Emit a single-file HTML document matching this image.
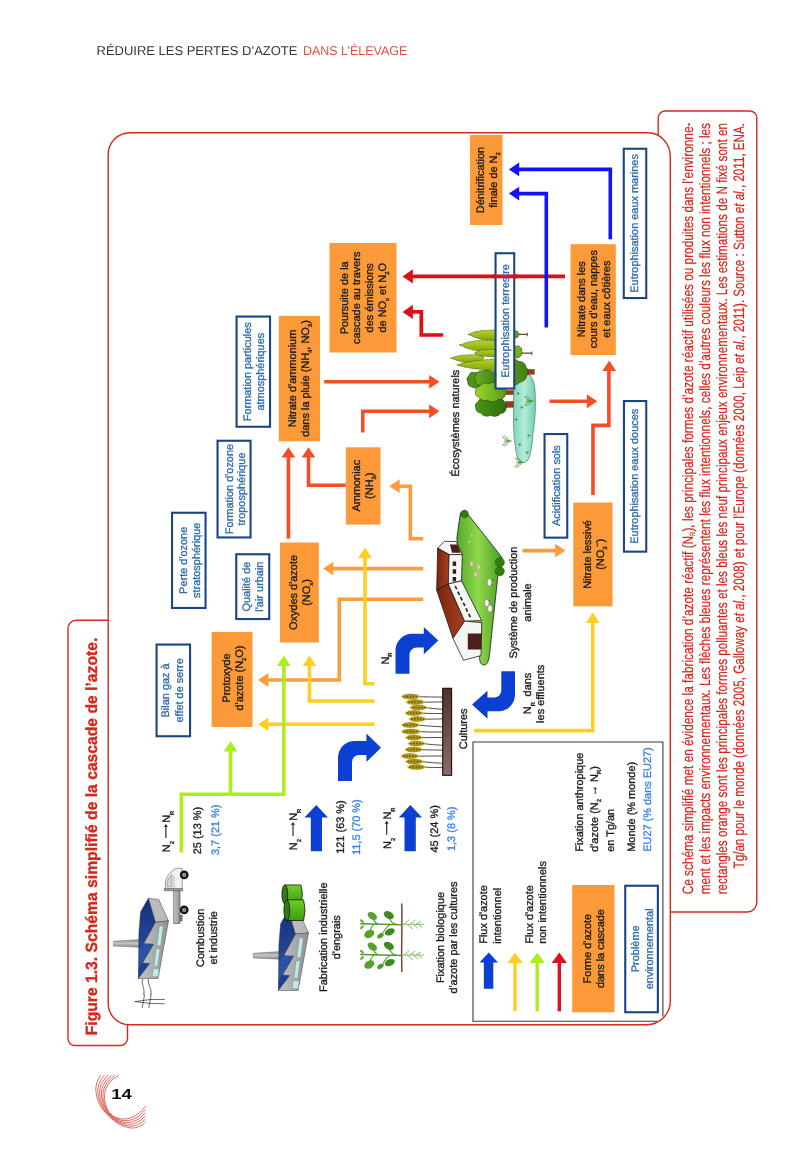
<!DOCTYPE html>
<html><head><meta charset="utf-8"><title>Figure 1.3</title>
<style>
html,body{margin:0;padding:0;background:#fff;}
body{width:800px;height:1158px;overflow:hidden;font-family:"Liberation Sans",sans-serif;}
svg{display:block;font-family:"Liberation Sans",sans-serif;will-change:transform;}
</style></head><body>
<svg width="800" height="1158" viewBox="0 0 800 1158" text-rendering="geometricPrecision">
<defs>
<linearGradient id="gField" x1="0" y1="0" x2="1" y2="0"><stop offset="0" stop-color="#4fa52a"/><stop offset="0.5" stop-color="#8fd84a"/><stop offset="1" stop-color="#4a9d24"/></linearGradient>
<linearGradient id="gRoof" x1="0" y1="0" x2="1" y2="0"><stop offset="0" stop-color="#7a2410"/><stop offset="1" stop-color="#a8401c"/></linearGradient>
<linearGradient id="gBar" x1="0" y1="0" x2="0" y2="1"><stop offset="0" stop-color="#4e322e"/><stop offset="1" stop-color="#8d6e66"/></linearGradient>
<linearGradient id="gBlueRoof" x1="0" y1="0" x2="0" y2="1"><stop offset="0" stop-color="#16307a"/><stop offset="1" stop-color="#2f5aa8"/></linearGradient>
<linearGradient id="gWall" x1="0" y1="0" x2="1" y2="0"><stop offset="0" stop-color="#c4c6c8"/><stop offset="1" stop-color="#8f9294"/></linearGradient>
<linearGradient id="gPond" x1="0" y1="0" x2="1" y2="0"><stop offset="0" stop-color="#7fd6bd"/><stop offset="0.5" stop-color="#b4ecd6"/><stop offset="1" stop-color="#6fcdb4"/></linearGradient>
<linearGradient id="gChim" x1="0" y1="0" x2="0" y2="1"><stop offset="0" stop-color="#8d9092"/><stop offset="0.5" stop-color="#c2c4c6"/><stop offset="1" stop-color="#85888a"/></linearGradient>
<linearGradient id="gCon" x1="0" y1="0" x2="0" y2="1"><stop offset="0" stop-color="#b4d420"/><stop offset="1" stop-color="#7fa512"/></linearGradient>
<linearGradient id="gCrownM" x1="0" y1="0" x2="1" y2="0"><stop offset="0" stop-color="#6aac22"/><stop offset="1" stop-color="#417f12"/></linearGradient>
<linearGradient id="gCrownL" x1="0" y1="0" x2="1" y2="0"><stop offset="0" stop-color="#9ad524"/><stop offset="1" stop-color="#5a9a18"/></linearGradient>
<linearGradient id="gCrownD" x1="0" y1="0" x2="1" y2="0"><stop offset="0" stop-color="#4c9418"/><stop offset="1" stop-color="#2f6e0c"/></linearGradient>
<linearGradient id="gCyl" x1="0" y1="0" x2="0" y2="1"><stop offset="0" stop-color="#6fd02a"/><stop offset="1" stop-color="#3f9a12"/></linearGradient>
</defs>
<rect width="800" height="1158" fill="#fff"/>

<text x="96.6" y="55" font-size="12.86" fill="#363636" textLength="200.8" lengthAdjust="spacingAndGlyphs">RÉDUIRE LES PERTES D’AZOTE</text>
<text x="303.1" y="55" font-size="12.86" fill="#e4523c" textLength="104.1" lengthAdjust="spacingAndGlyphs">DANS L’ÉLEVAGE</text>
<path d="M658.2,912 V118 a7,7 0 0 1 7,-7 H749.8 a7,7 0 0 1 7,7 V902.5 a9.5,9.5 0 0 1 -9.5,9.5 Z" fill="#fff" stroke="#d62a1e" stroke-width="1.4"/>
<path d="M115,620.3 H76 a8,8 0 0 0 -8,8 V1038.5 a7,7 0 0 0 7,7 H120.5 a7,7 0 0 0 7,-7 V1000" fill="#fff" stroke="#d62a1e" stroke-width="1.4"/>
<path d="M130,132.8 H648 a22.3,24 0 0 1 22.3,24 V1001 a23.5,23.8 0 0 1 -23.5,23.8 H129.5 a21.3,21.3 0 0 1 -21.3,-21.3 V154.5 a21.7,21.7 0 0 1 21.8,-21.7 Z" fill="#fff" stroke="#d62a1e" stroke-width="1.4"/>
<text transform="translate(96.50,1035.30) rotate(-90)" text-anchor="start" font-size="16.2" fill="#d3281c" textLength="397.60" lengthAdjust="spacingAndGlyphs" font-weight="bold" stroke="#d3281c" stroke-width="0.35">Figure 1.3. Schéma simplifié de la cascade de l’azote.</text>
<text x="111.3" y="1098.8" font-size="14.4" font-weight="bold" fill="#111" textLength="20.6" lengthAdjust="spacingAndGlyphs">14</text>
<path d="M118.80,1075.20 C117.33,1076.33 112.27,1079.37 110.00,1082.00 C107.73,1084.63 106.07,1087.83 105.20,1091.00 C104.33,1094.17 104.13,1097.45 104.80,1101.00 C105.47,1104.55 107.00,1109.43 109.20,1112.30 C111.40,1115.17 114.87,1117.15 118.00,1118.20 C121.13,1119.25 124.67,1119.30 128.00,1118.60 C131.33,1117.90 135.07,1116.07 138.00,1114.00 C140.93,1111.93 144.33,1107.50 145.60,1106.20" fill="none" stroke="#d02e20" stroke-width="0.7"/>
<path d="M115.16,1075.20 C113.86,1076.37 109.33,1079.53 107.36,1082.20 C105.39,1084.87 103.96,1087.97 103.36,1091.20 C102.76,1094.43 102.82,1097.99 103.74,1101.60 C104.66,1105.21 106.47,1109.88 108.88,1112.84 C111.29,1115.80 114.91,1118.09 118.20,1119.36 C121.49,1120.63 125.23,1120.97 128.60,1120.48 C131.97,1119.99 135.57,1118.29 138.40,1116.44 C141.23,1114.59 144.40,1110.54 145.60,1109.36" fill="none" stroke="#d02e20" stroke-width="0.7"/>
<path d="M111.52,1075.20 C110.39,1076.40 106.39,1079.70 104.72,1082.40 C103.05,1085.10 101.86,1088.10 101.52,1091.40 C101.18,1094.70 101.51,1098.54 102.68,1102.20 C103.85,1105.86 105.94,1110.33 108.56,1113.38 C111.18,1116.43 114.96,1119.02 118.40,1120.52 C121.84,1122.02 125.80,1122.63 129.20,1122.36 C132.60,1122.09 136.07,1120.52 138.80,1118.88 C141.53,1117.24 144.47,1113.58 145.60,1112.52" fill="none" stroke="#d02e20" stroke-width="0.7"/>
<path d="M107.88,1075.20 C106.91,1076.43 103.45,1079.87 102.08,1082.60 C100.71,1085.33 99.76,1088.23 99.68,1091.60 C99.60,1094.97 100.19,1099.08 101.62,1102.80 C103.05,1106.52 105.41,1110.77 108.24,1113.92 C111.07,1117.07 115.01,1119.96 118.60,1121.68 C122.19,1123.40 126.37,1124.30 129.80,1124.24 C133.23,1124.18 136.57,1122.75 139.20,1121.32 C141.83,1119.89 144.53,1116.62 145.60,1115.68" fill="none" stroke="#d02e20" stroke-width="0.7"/>
<path d="M104.24,1075.20 C103.44,1076.47 100.51,1080.03 99.44,1082.80 C98.37,1085.57 97.65,1088.37 97.84,1091.80 C98.03,1095.23 98.88,1099.62 100.56,1103.40 C102.24,1107.18 104.88,1111.22 107.92,1114.46 C110.96,1117.70 115.05,1120.90 118.80,1122.84 C122.55,1124.78 126.93,1125.97 130.40,1126.12 C133.87,1126.27 137.07,1124.97 139.60,1123.76 C142.13,1122.55 144.60,1119.66 145.60,1118.84" fill="none" stroke="#d02e20" stroke-width="0.7"/>
<path d="M100.60,1075.20 C99.97,1076.50 97.57,1080.20 96.80,1083.00 C96.03,1085.80 95.55,1088.50 96.00,1092.00 C96.45,1095.50 97.57,1100.17 99.50,1104.00 C101.43,1107.83 104.35,1111.67 107.60,1115.00 C110.85,1118.33 115.10,1121.83 119.00,1124.00 C122.90,1126.17 127.50,1127.63 131.00,1128.00 C134.50,1128.37 137.57,1127.20 140.00,1126.20 C142.43,1125.20 144.67,1122.70 145.60,1122.00" fill="none" stroke="#d02e20" stroke-width="0.7"/>
<path d="M514.2,377 Q521,373.6 530,375 Q534.4,380 535,390 Q535.8,402 535.3,412 Q534.6,424 533,434 Q532,447 530,455.5 Q528,461.8 524,462.6 Q520,462.6 518,459.5 Q515.8,453 515,444.5 Q513.6,435 513.5,425 Q513.2,410 513.5,395 Q513.6,385 514.2,377 Z" fill="url(#gPond)" stroke="#2a5a3a" stroke-width="0.5"/>
<rect x="527" y="369.4" width="7.4" height="5" fill="#9a3c1a" stroke="#3a1508" stroke-width="0.3"/>
<rect x="505.4" y="390.4" width="8" height="4.2" fill="#9a3c1a" stroke="#3a1508" stroke-width="0.3"/>
<rect x="505.4" y="401.4" width="8" height="6" fill="#9a3c1a" stroke="#3a1508" stroke-width="0.3"/>
<path d="M517,334.4 H527.4 M527.2,332.8 V336.2" stroke="#5a4a30" stroke-width="1.1" fill="none"/>
<path d="M518.60,334.40 A2.53,2.53 0 0 1 517.30,337.52 A1.95,1.95 0 0 1 514.70,337.52 A2.53,2.53 0 0 1 513.40,334.40 A2.53,2.53 0 0 1 514.70,331.28 A1.95,1.95 0 0 1 517.30,331.28 A2.53,2.53 0 0 1 518.60,334.40 Z" fill="#6aa41c" stroke="#1c2c0a" stroke-width="0.4" stroke-linejoin="round"/>
<path d="M521,353.1 H532 M531.8,351.4 V355" stroke="#5a4a30" stroke-width="1.1" fill="none"/>
<path d="M521.80,351.80 A3.71,3.71 0 0 1 520.22,356.49 A2.80,2.80 0 0 1 516.67,357.65 A3.24,3.24 0 0 1 513.82,354.40 A3.90,3.90 0 0 1 513.82,349.20 A3.24,3.24 0 0 1 516.67,345.95 A2.80,2.80 0 0 1 520.22,347.11 A3.71,3.71 0 0 1 521.80,351.80 Z" fill="#78b01e" stroke="#1c2c0a" stroke-width="0.4" stroke-linejoin="round"/>
<path d="M526.76,375.55 A7.09,7.09 0 0 1 519.94,382.09 A8.37,8.37 0 0 1 508.94,383.91 A8.04,8.04 0 0 1 498.90,380.16 A6.56,6.56 0 0 1 494.52,372.59 A6.39,6.39 0 0 1 497.86,364.75 A7.86,7.86 0 0 1 507.34,360.30 A8.43,8.43 0 0 1 518.54,361.33 A7.31,7.31 0 0 1 526.21,367.35 A6.16,6.16 0 0 1 526.76,375.55 Z" fill="url(#gCrownM)" stroke="#1c2c0a" stroke-width="0.5" stroke-linejoin="round"/>
<path d="M481.36,381.49 A4.76,4.76 0 0 1 477.69,386.68 A4.56,4.56 0 0 1 471.62,386.83 A4.75,4.75 0 0 1 467.72,381.85 A4.87,4.87 0 0 1 468.92,375.47 A4.63,4.63 0 0 1 474.33,372.50 A4.61,4.61 0 0 1 479.86,375.18 A4.86,4.86 0 0 1 481.36,381.49 Z" fill="#4f921a" stroke="#1c2c0a" stroke-width="0.5" stroke-linejoin="round"/>
<path d="M495.65,382.34 A5.70,5.70 0 0 1 489.10,386.18 A6.30,6.30 0 0 1 480.73,385.52 A5.34,5.34 0 0 1 475.44,380.75 A4.62,4.62 0 0 1 476.35,374.66 A5.70,5.70 0 0 1 482.90,370.82 A6.30,6.30 0 0 1 491.27,371.48 A5.34,5.34 0 0 1 496.56,376.25 A4.62,4.62 0 0 1 495.65,382.34 Z" fill="url(#gCrownM)" stroke="#1c2c0a" stroke-width="0.5" stroke-linejoin="round"/>
<path d="M506.19,408.25 A5.66,5.66 0 0 1 500.66,413.38 A7.67,7.67 0 0 1 490.61,415.30 A7.58,7.58 0 0 1 480.74,413.09 A5.49,5.49 0 0 1 475.67,407.81 A4.70,4.70 0 0 1 477.78,401.91 A6.83,6.83 0 0 1 486.07,398.16 A7.95,7.95 0 0 1 496.67,398.31 A6.67,6.67 0 0 1 504.62,402.30 A4.62,4.62 0 0 1 506.19,408.25 Z" fill="url(#gCrownD)" stroke="#1c2c0a" stroke-width="0.5" stroke-linejoin="round"/>
<path d="M505.28,395.27 A6.27,6.27 0 0 1 498.06,399.48 A7.91,7.91 0 0 1 487.53,400.19 A7.07,7.07 0 0 1 478.63,397.06 A4.74,4.74 0 0 1 475.52,391.57 A5.03,5.03 0 0 1 479.65,386.28 A7.35,7.35 0 0 1 489.09,383.66 A7.81,7.81 0 0 1 499.42,384.95 A5.90,5.90 0 0 1 505.82,389.53 A4.32,4.32 0 0 1 505.28,395.27 Z" fill="url(#gCrownL)" stroke="#1c2c0a" stroke-width="0.5" stroke-linejoin="round"/>
<polygon points="468.10,334.40 475.00,331.60 482.50,330.60 494.40,330.00 497.00,335.00 494.40,340.60 481.20,339.40 474.00,337.00" fill="url(#gCon)" stroke="#2a3408" stroke-width="0.55" stroke-dasharray="1.6 0.9" stroke-linejoin="round"/>
<polygon points="459.40,345.00 468.00,342.00 477.50,340.60 494.40,340.60 497.00,346.00 494.40,351.90 475.00,350.60 466.00,348.00" fill="url(#gCon)" stroke="#2a3408" stroke-width="0.55" stroke-dasharray="1.6 0.9" stroke-linejoin="round"/>
<polygon points="450.60,358.10 457.00,356.00 463.80,355.00 481.20,354.40 484.00,358.00 482.50,361.20 465.00,362.50 457.00,360.60" fill="url(#gCon)" stroke="#2a3408" stroke-width="0.55" stroke-dasharray="1.6 0.9" stroke-linejoin="round"/>
<polygon points="474.40,353.10 478.00,351.00 482.50,350.00 494.40,349.40 497.00,353.00 494.40,356.90 482.50,356.20 478.00,355.00" fill="url(#gCon)" stroke="#2a3408" stroke-width="0.55" stroke-dasharray="1.6 0.9" stroke-linejoin="round"/>
<polygon points="456.90,365.00 464.00,362.60 472.50,361.20 494.40,358.80 497.00,364.00 494.40,370.60 473.80,368.80 464.00,367.00" fill="url(#gCon)" stroke="#2a3408" stroke-width="0.55" stroke-dasharray="1.6 0.9" stroke-linejoin="round"/>
<g fill="none" stroke="#3f8a2a" stroke-width="0.8" stroke-linecap="round">
<path d="M533.5,401 h-7 M530.5,401 q-4,-1 -6,-4.5 M530.5,401 q-4,1 -6,4.5 M531.5,401 q-2,3 -5,5 M531.5,401 q-2,-3 -5,-5"/>
<path d="M511.5,441 h-7 M508.5,441 q-4,-1 -6,-4.5 M508.5,441 q-4,1 -6,4.5 M509.5,441 q-2,3 -5,5 M509.5,441 q-2,-3 -5,-5"/>
<path d="M524,462.5 h-7 M521,462.5 q-4,-1 -6,-4.5 M521,462.5 q-4,1 -6,4.5 M522,462.5 q-2,3 -5,5 M522,462.5 q-2,-3 -5,-5"/>
</g>
<g fill="#3f8a2a">
<path d="M518.5,393 l-1.5,-1.2 l0.6,1.4 l-1.4,1 l1.7,-0.2 l0.6,1.4 l0.4,-1.6 l1.5,-0.5 l-1.5,-0.6 z"/>
<path d="M520,444 l-1.5,-1.2 l0.6,1.4 l-1.4,1 l1.7,-0.2 l0.6,1.4 l0.4,-1.6 l1.5,-0.5 l-1.5,-0.6 z"/>
<path d="M529,435 l-1.5,-1.2 l0.6,1.4 l-1.4,1 l1.7,-0.2 l0.6,1.4 l0.4,-1.6 l1.5,-0.5 l-1.5,-0.6 z"/>
<path d="M516.5,419 l-1.5,-1.2 l0.6,1.4 l-1.4,1 l1.7,-0.2 l0.6,1.4 l0.4,-1.6 l1.5,-0.5 l-1.5,-0.6 z"/>
<path d="M527.5,452 l-1.5,-1.2 l0.6,1.4 l-1.4,1 l1.7,-0.2 l0.6,1.4 l0.4,-1.6 l1.5,-0.5 l-1.5,-0.6 z"/>
<path d="M522,407 l-1.5,-1.2 l0.6,1.4 l-1.4,1 l1.7,-0.2 l0.6,1.4 l0.4,-1.6 l1.5,-0.5 l-1.5,-0.6 z"/>
</g>
<path d="M464.6,510.1 L502,557.5 L498,574.6 L489.6,654 Q488.6,665.8 483.4,665 Q479.3,664 479.6,657 L481.6,622.8 L470,622 L455,582 L458,556 L456.9,537.3 L460.4,513 Z" fill="url(#gField)" stroke="#141414" stroke-width="0.75" stroke-linejoin="round"/>
<circle cx="464.6" cy="514" r="3.8" fill="#2f7d12" stroke="#1b4a0a" stroke-width="0.4"/>
<circle cx="499.8" cy="562.4" r="4.6" fill="#2f7d12" stroke="#1b4a0a" stroke-width="0.4"/>
<circle cx="499.8" cy="571.3" r="4.6" fill="#2f7d12" stroke="#1b4a0a" stroke-width="0.4"/>
<polygon points="437.60,548.20 444.50,541.30 456.20,541.50 462.30,554.60 449.10,554.60" fill="#f4f6f4" stroke="#141414" stroke-width="0.75" stroke-linejoin="round"/>
<polygon points="449.90,544.60 457.60,544.60 460.60,552.80 452.00,552.80" fill="#4a2018"/>
<polygon points="436.70,590.20 437.60,548.20 449.10,554.60 448.30,584.00" fill="url(#gRoof)" stroke="#141414" stroke-width="0.75" stroke-linejoin="round"/>
<polygon points="449.10,554.60 462.30,554.60 461.50,580.80 448.30,584.00" fill="#f4f6f4" stroke="#141414" stroke-width="0.75" stroke-linejoin="round"/>
<rect x="452.7" y="561.5" width="3.4" height="4.4" fill="#3a1a14"/>
<rect x="452.7" y="569.3" width="3.4" height="4.4" fill="#3a1a14"/>
<rect x="452.7" y="577" width="3.4" height="4.4" fill="#3a1a14"/>
<polygon points="436.70,590.20 448.30,584.00 464.60,621.20 453.00,638.40" fill="url(#gRoof)" stroke="#141414" stroke-width="0.75" stroke-linejoin="round"/>
<polygon points="448.30,584.00 461.50,580.80 481.60,620.50 464.60,621.20" fill="#f4f6f4" stroke="#141414" stroke-width="0.75" stroke-linejoin="round"/>
<path d="M455.2,586 L470.5,617.5" stroke="#2a1a14" stroke-width="1.6" stroke-dasharray="3.6 2.6" fill="none"/>
<polygon points="453.00,638.40 464.60,621.20 481.80,622.60 481.00,655.60 463.50,660.30" fill="#f4f6f4" stroke="#141414" stroke-width="0.75" stroke-linejoin="round"/>
<polygon points="467.80,633.60 481.60,633.60 481.40,649.40 467.80,649.40" fill="#4a2018"/>
<ellipse cx="471.6" cy="563.7" rx="1.6" ry="2.6" fill="#f3c4c4" stroke="#b08080" stroke-width="0.3"/>
<ellipse cx="478.6" cy="566.8" rx="1.6" ry="2.6" fill="#f3c4c4" stroke="#b08080" stroke-width="0.3"/>
<ellipse cx="475.5" cy="574.6" rx="1.6" ry="2.6" fill="#f3c4c4" stroke="#b08080" stroke-width="0.3"/>
<circle cx="471.6" cy="535.8" r="0.9" fill="#f3d0d0"/>
<circle cx="469.3" cy="542" r="0.9" fill="#f3d0d0"/>
<ellipse cx="489.5" cy="582.4" rx="2.2" ry="3.6" fill="#fbfbfb" stroke="#555" stroke-width="0.35"/>
<path d="M491.5,579.9 h2 M491.5,584.9 h2" stroke="#444" stroke-width="0.5"/>
<ellipse cx="486.8" cy="603" rx="2.2" ry="3.6" fill="#fbfbfb" stroke="#555" stroke-width="0.35"/>
<path d="M488.8,600.5 h2 M488.8,605.5 h2" stroke="#444" stroke-width="0.5"/>
<ellipse cx="490" cy="608.5" rx="2.2" ry="3.6" fill="#fbfbfb" stroke="#555" stroke-width="0.35"/>
<path d="M492,606.0 h2 M492,611.0 h2" stroke="#444" stroke-width="0.5"/>
<path d="M419,696.7 Q431.0,697.1 442.6,697.1" stroke="#2e3328" stroke-width="0.85" fill="none"/>
<ellipse cx="410.8" cy="696.5" rx="10.1" ry="3.1" fill="#d9c45a" opacity="0.55"/>
<path d="M401.5,696.5 Q405.5,693.6 410.75,693.8 T420,696.5 Q417,699.1 410.75,699.2 T401.5,696.5 Z" fill="#b39a1c"/>
<path d="M403.5,696.5 H418.5" stroke="#5e5210" stroke-width="1.3" stroke-dasharray="1.5 1.5" fill="none"/>
<path d="M404.5,694.8 H417 M404.5,698.2 H417" stroke="#8a7a14" stroke-width="0.7" stroke-dasharray="1.2 1.8" fill="none"/>
<path d="M423.5,702.2 Q433.2,702.1 442.6,701.9" stroke="#2e3328" stroke-width="0.85" fill="none"/>
<ellipse cx="415.2" cy="702" rx="10.1" ry="3.1" fill="#d9c45a" opacity="0.55"/>
<path d="M406,702 Q410,699.1 415.25,699.3 T424.5,702 Q421.5,704.6 415.25,704.7 T406,702 Z" fill="#b39a1c"/>
<path d="M408,702 H423.0" stroke="#5e5210" stroke-width="1.3" stroke-dasharray="1.5 1.5" fill="none"/>
<path d="M409,700.3 H421.5 M409,703.7 H421.5" stroke="#8a7a14" stroke-width="0.7" stroke-dasharray="1.2 1.8" fill="none"/>
<path d="M426,707.7 Q434.5,708.9 442.6,709.3" stroke="#2e3328" stroke-width="0.85" fill="none"/>
<ellipse cx="418.5" cy="707.5" rx="9.3" ry="3.1" fill="#d9c45a" opacity="0.55"/>
<path d="M410,707.5 Q414,704.6 418.5,704.8 T427,707.5 Q424,710.1 418.5,710.2 T410,707.5 Z" fill="#b39a1c"/>
<path d="M412,707.5 H425.5" stroke="#5e5210" stroke-width="1.3" stroke-dasharray="1.5 1.5" fill="none"/>
<path d="M413,705.8 H424 M413,709.2 H424" stroke="#8a7a14" stroke-width="0.7" stroke-dasharray="1.2 1.8" fill="none"/>
<path d="M422,713.2 Q432.5,713.6 442.6,713.6" stroke="#2e3328" stroke-width="0.85" fill="none"/>
<ellipse cx="414.0" cy="713" rx="9.8" ry="3.1" fill="#d9c45a" opacity="0.55"/>
<path d="M405,713 Q409,710.1 414.0,710.3 T423,713 Q420,715.6 414.0,715.7 T405,713 Z" fill="#b39a1c"/>
<path d="M407,713 H421.5" stroke="#5e5210" stroke-width="1.3" stroke-dasharray="1.5 1.5" fill="none"/>
<path d="M408,711.3 H420 M408,714.7 H420" stroke="#8a7a14" stroke-width="0.7" stroke-dasharray="1.2 1.8" fill="none"/>
<path d="M425,719.2 Q434.0,719.1 442.6,718.9" stroke="#2e3328" stroke-width="0.85" fill="none"/>
<ellipse cx="417.5" cy="719" rx="9.3" ry="3.1" fill="#d9c45a" opacity="0.55"/>
<path d="M409,719 Q413,716.1 417.5,716.3 T426,719 Q423,721.6 417.5,721.7 T409,719 Z" fill="#b39a1c"/>
<path d="M411,719 H424.5" stroke="#5e5210" stroke-width="1.3" stroke-dasharray="1.5 1.5" fill="none"/>
<path d="M412,717.3 H423 M412,720.7 H423" stroke="#8a7a14" stroke-width="0.7" stroke-dasharray="1.2 1.8" fill="none"/>
<path d="M418.5,725.2 Q430.8,726.4 442.6,726.8" stroke="#2e3328" stroke-width="0.85" fill="none"/>
<ellipse cx="410.5" cy="725" rx="9.8" ry="3.1" fill="#d9c45a" opacity="0.55"/>
<path d="M401.5,725 Q405.5,722.1 410.5,722.3 T419.5,725 Q416.5,727.6 410.5,727.7 T401.5,725 Z" fill="#b39a1c"/>
<path d="M403.5,725 H418.0" stroke="#5e5210" stroke-width="1.3" stroke-dasharray="1.5 1.5" fill="none"/>
<path d="M404.5,723.3 H416.5 M404.5,726.7 H416.5" stroke="#8a7a14" stroke-width="0.7" stroke-dasharray="1.2 1.8" fill="none"/>
<path d="M419.5,731.7 Q431.2,732.1 442.6,732.1" stroke="#2e3328" stroke-width="0.85" fill="none"/>
<ellipse cx="411.0" cy="731.5" rx="10.3" ry="3.1" fill="#d9c45a" opacity="0.55"/>
<path d="M401.5,731.5 Q405.5,728.6 411.0,728.8 T420.5,731.5 Q417.5,734.1 411.0,734.2 T401.5,731.5 Z" fill="#b39a1c"/>
<path d="M403.5,731.5 H419.0" stroke="#5e5210" stroke-width="1.3" stroke-dasharray="1.5 1.5" fill="none"/>
<path d="M404.5,729.8 H417.5 M404.5,733.2 H417.5" stroke="#8a7a14" stroke-width="0.7" stroke-dasharray="1.2 1.8" fill="none"/>
<path d="M421.5,737.7 Q432.2,737.6 442.6,737.4" stroke="#2e3328" stroke-width="0.85" fill="none"/>
<ellipse cx="414.0" cy="737.5" rx="9.3" ry="3.1" fill="#d9c45a" opacity="0.55"/>
<path d="M405.5,737.5 Q409.5,734.6 414.0,734.8 T422.5,737.5 Q419.5,740.1 414.0,740.2 T405.5,737.5 Z" fill="#b39a1c"/>
<path d="M407.5,737.5 H421.0" stroke="#5e5210" stroke-width="1.3" stroke-dasharray="1.5 1.5" fill="none"/>
<path d="M408.5,735.8 H419.5 M408.5,739.2 H419.5" stroke="#8a7a14" stroke-width="0.7" stroke-dasharray="1.2 1.8" fill="none"/>
<path d="M424,743.7 Q433.5,744.9 442.6,745.3" stroke="#2e3328" stroke-width="0.85" fill="none"/>
<ellipse cx="416.5" cy="743.5" rx="9.3" ry="3.1" fill="#d9c45a" opacity="0.55"/>
<path d="M408,743.5 Q412,740.6 416.5,740.8 T425,743.5 Q422,746.1 416.5,746.2 T408,743.5 Z" fill="#b39a1c"/>
<path d="M410,743.5 H423.5" stroke="#5e5210" stroke-width="1.3" stroke-dasharray="1.5 1.5" fill="none"/>
<path d="M411,741.8 H422 M411,745.2 H422" stroke="#8a7a14" stroke-width="0.7" stroke-dasharray="1.2 1.8" fill="none"/>
<path d="M421.5,749.7 Q432.2,750.1 442.6,750.1" stroke="#2e3328" stroke-width="0.85" fill="none"/>
<ellipse cx="413.8" cy="749.5" rx="9.6" ry="3.1" fill="#d9c45a" opacity="0.55"/>
<path d="M405,749.5 Q409,746.6 413.75,746.8 T422.5,749.5 Q419.5,752.1 413.75,752.2 T405,749.5 Z" fill="#b39a1c"/>
<path d="M407,749.5 H421.0" stroke="#5e5210" stroke-width="1.3" stroke-dasharray="1.5 1.5" fill="none"/>
<path d="M408,747.8 H419.5 M408,751.2 H419.5" stroke="#8a7a14" stroke-width="0.7" stroke-dasharray="1.2 1.8" fill="none"/>
<path d="M418,756.2 Q430.5,756.1 442.6,755.9" stroke="#2e3328" stroke-width="0.85" fill="none"/>
<ellipse cx="410.0" cy="756" rx="9.8" ry="3.1" fill="#d9c45a" opacity="0.55"/>
<path d="M401,756 Q405,753.1 410.0,753.3 T419,756 Q416,758.6 410.0,758.7 T401,756 Z" fill="#b39a1c"/>
<path d="M403,756 H417.5" stroke="#5e5210" stroke-width="1.3" stroke-dasharray="1.5 1.5" fill="none"/>
<path d="M404,754.3 H416 M404,757.7 H416" stroke="#8a7a14" stroke-width="0.7" stroke-dasharray="1.2 1.8" fill="none"/>
<path d="M422.5,761.7 Q432.8,762.9 442.6,763.3" stroke="#2e3328" stroke-width="0.85" fill="none"/>
<ellipse cx="414.5" cy="761.5" rx="9.8" ry="3.1" fill="#d9c45a" opacity="0.55"/>
<path d="M405.5,761.5 Q409.5,758.6 414.5,758.8 T423.5,761.5 Q420.5,764.1 414.5,764.2 T405.5,761.5 Z" fill="#b39a1c"/>
<path d="M407.5,761.5 H422.0" stroke="#5e5210" stroke-width="1.3" stroke-dasharray="1.5 1.5" fill="none"/>
<path d="M408.5,759.8 H420.5 M408.5,763.2 H420.5" stroke="#8a7a14" stroke-width="0.7" stroke-dasharray="1.2 1.8" fill="none"/>
<path d="M424.5,767.2 Q433.8,767.6 442.6,767.6" stroke="#2e3328" stroke-width="0.85" fill="none"/>
<ellipse cx="416.5" cy="767" rx="9.8" ry="3.1" fill="#d9c45a" opacity="0.55"/>
<path d="M407.5,767 Q411.5,764.1 416.5,764.3 T425.5,767 Q422.5,769.6 416.5,769.7 T407.5,767 Z" fill="#b39a1c"/>
<path d="M409.5,767 H424.0" stroke="#5e5210" stroke-width="1.3" stroke-dasharray="1.5 1.5" fill="none"/>
<path d="M410.5,765.3 H422.5 M410.5,768.7 H422.5" stroke="#8a7a14" stroke-width="0.7" stroke-dasharray="1.2 1.8" fill="none"/>
<rect x="442.7" y="688.3" width="8.9" height="87" fill="url(#gBar)" stroke="#151010" stroke-width="1.1"/>
<path d="M401.7,904 C402.5,920 401.1,950 401.9,971.5" fill="none" stroke="#7a4632" stroke-width="1.5" stroke-linecap="round"/>
<g fill="none" stroke="#78b858" stroke-width="0.9" stroke-linecap="round"><path d="M402,924.3 H423.5"/><path d="M404,924.3 l5,-4.5 M407,924.3 l5.5,4.5 M410,924.3 l5,-4 M413,924.3 l5,4 M416,924.3 l4.5,-3 M418,924.3 l4,3"/></g>
<path d="M360.8,923.6999999999999 L401.7,924.6999999999999" fill="none" stroke="#4f9a2a" stroke-width="1.5" stroke-linecap="round"/>
<path d="M396,924.3 q-4,-0.5 -7,-6.5 M392,924.3 q-5,1 -9,8.5 M378,924.0 q-3,-1 -5,-6 M375,924.0 q-3,1 -5,7" fill="none" stroke="#4f9a2a" stroke-width="1.1"/>
<ellipse cx="372.3" cy="916.0" rx="5.2" ry="3.4" transform="rotate(35 372.3 916.0)" fill="#5aa02c"/>
<ellipse cx="388.8" cy="915.1" rx="5.4" ry="3.6" transform="rotate(30 388.8 915.1)" fill="#3f8a1e"/>
<ellipse cx="369.3" cy="933.9" rx="5.4" ry="3.8" transform="rotate(-30 369.3 933.9)" fill="#5aa02c"/>
<ellipse cx="389.8" cy="931.9" rx="5.2" ry="3.3" transform="rotate(-25 389.8 931.9)" fill="#3f8a1e"/>
<ellipse cx="380.5" cy="935.7" rx="3.6" ry="2.2" transform="rotate(-35 380.5 935.7)" fill="#4f982a"/>
<ellipse cx="362" cy="921.1" rx="2.4" ry="1.3" transform="rotate(40 362 921.1)" fill="#6fb63c"/>
<ellipse cx="362" cy="927.3" rx="2.4" ry="1.3" transform="rotate(-40 362 927.3)" fill="#6fb63c"/>
<g fill="none" stroke="#78b858" stroke-width="0.9" stroke-linecap="round"><path d="M402,955.0 H423.5"/><path d="M404,955.0 l5,-4.5 M407,955.0 l5.5,4.5 M410,955.0 l5,-4 M413,955.0 l5,4 M416,955.0 l4.5,-3 M418,955.0 l4,3"/></g>
<path d="M360.8,954.4 L401.7,955.4" fill="none" stroke="#4f9a2a" stroke-width="1.5" stroke-linecap="round"/>
<path d="M396,955.0 q-4,-0.5 -7,-6.5 M392,955.0 q-5,1 -9,8.5 M378,954.7 q-3,-1 -5,-6 M375,954.7 q-3,1 -5,7" fill="none" stroke="#4f9a2a" stroke-width="1.1"/>
<ellipse cx="372.3" cy="946.7" rx="5.2" ry="3.4" transform="rotate(35 372.3 946.7)" fill="#5aa02c"/>
<ellipse cx="388.8" cy="945.8" rx="5.4" ry="3.6" transform="rotate(30 388.8 945.8)" fill="#3f8a1e"/>
<ellipse cx="369.3" cy="964.6" rx="5.4" ry="3.8" transform="rotate(-30 369.3 964.6)" fill="#5aa02c"/>
<ellipse cx="389.8" cy="962.6" rx="5.2" ry="3.3" transform="rotate(-25 389.8 962.6)" fill="#3f8a1e"/>
<ellipse cx="380.5" cy="966.4" rx="3.6" ry="2.2" transform="rotate(-35 380.5 966.4)" fill="#4f982a"/>
<ellipse cx="362" cy="951.8" rx="2.4" ry="1.3" transform="rotate(40 362 951.8)" fill="#6fb63c"/>
<ellipse cx="362" cy="958.0" rx="2.4" ry="1.3" transform="rotate(-40 362 958.0)" fill="#6fb63c"/>
<polygon points="113.40,941.20 113.40,946.00 139.60,947.20 139.60,939.60" fill="url(#gChim)" stroke="#555" stroke-width="0.4"/>
<polygon points="148.40,898.20 140.60,911.80 138.90,932.50 138.40,978.50 149.70,963.60 142.60,963.00 153.60,944.20 143.90,943.50 155.50,922.20" fill="url(#gBlueRoof)" stroke="#2a2a2a" stroke-width="0.45" stroke-linejoin="round"/>
<polygon points="138.40,978.50 149.70,963.60 142.60,963.00 138.60,968.00" fill="#1c3f8f" opacity="0.9"/>
<polygon points="142.60,963.00 153.60,944.20 143.90,943.50 138.80,952.00" fill="#2a55a6" opacity="0.9"/>
<polygon points="148.40,898.20 158.80,899.50 168.50,920.90 155.50,922.20" fill="#b9bbbd" stroke="#2a2a2a" stroke-width="0.45" stroke-linejoin="round"/>
<polygon points="138.40,978.50 149.70,963.60 142.60,963.00 153.60,944.20 143.90,943.50 155.50,922.20 168.50,920.90 158.10,978.50" fill="url(#gWall)" stroke="#2a2a2a" stroke-width="0.45" stroke-linejoin="round"/>
<polygon points="159.40,926.10 163.30,926.10 160.70,945.50 156.80,945.50" fill="#c2ebe2" stroke="#6d8f8f" stroke-width="0.4"/>
<polygon points="156.20,948.70 160.10,948.70 157.50,966.20 154.00,966.20" fill="#c2ebe2" stroke="#6d8f8f" stroke-width="0.4"/>
<polygon points="153.20,968.80 159.10,968.80 158.10,976.60 152.30,976.60" fill="#c2ebe2" stroke="#6d8f8f" stroke-width="0.4"/>
<rect x="173.6" y="890.2" width="6.4" height="33.3" fill="url(#gWall)" stroke="#2a2a2a" stroke-width="0.45" stroke-linejoin="round"/>
<rect x="180" y="915" width="2.2" height="6" fill="#777" stroke="#333" stroke-width="0.3"/>
<rect x="164.2" y="888.6" width="18.5" height="2.2" fill="#aaa" stroke="#2a2a2a" stroke-width="0.45" stroke-linejoin="round"/>
<path d="M182.2,888.6 L165.3,888.6 L165.6,880.5 Q167,875.5 171,872 Q174.5,868.3 178,868 L182.2,868.6 Z" fill="#f2f2f2" stroke="#2a2a2a" stroke-width="0.45" stroke-linejoin="round"/>
<path d="M171.8,886.8 L167,886.8 L167.3,881 Q168.5,877.5 172,874.6 Z" fill="#cdd6da" stroke="#444" stroke-width="0.35"/>
<path d="M174,888 V876" stroke="#555" stroke-width="0.35"/>
<circle cx="184.2" cy="874.9" r="4.4" fill="#151515"/>
<circle cx="184.2" cy="874.9" r="1.9" fill="#cfcfcf"/>
<circle cx="184.2" cy="874.9" r="0.8" fill="#333"/>
<circle cx="184.2" cy="909.9" r="4.4" fill="#151515"/>
<circle cx="184.2" cy="909.9" r="1.9" fill="#cfcfcf"/>
<circle cx="184.2" cy="909.9" r="0.8" fill="#333"/>
<g fill="none" stroke="#2a2a2a" stroke-width="0.7">
<path d="M142.6,979 C140.8,984 145.5,989 143.6,995"/>
<path d="M148.6,979 C147,984 152.5,989 150.8,995"/>
<path d="M134.8,1001.6 Q150,998.6 164.8,999.4 M134.8,1001.6 Q150,1004 164.8,1003.8"/>
<path d="M144.6,994.5 L142.2,1008 M151.2,994.5 L148.8,1008"/>
</g>
<polygon points="253.40,953.20 253.40,958.00 279.60,959.20 279.60,951.60" fill="url(#gChim)" stroke="#555" stroke-width="0.4"/>
<polygon points="288.40,910.20 280.60,923.80 278.90,944.50 278.40,990.50 289.70,975.60 282.60,975.00 293.60,956.20 283.90,955.50 295.50,934.20" fill="url(#gBlueRoof)" stroke="#2a2a2a" stroke-width="0.45" stroke-linejoin="round"/>
<polygon points="278.40,990.50 289.70,975.60 282.60,975.00 278.60,980.00" fill="#1c3f8f" opacity="0.9"/>
<polygon points="282.60,975.00 293.60,956.20 283.90,955.50 278.80,964.00" fill="#2a55a6" opacity="0.9"/>
<polygon points="288.40,910.20 298.80,911.50 308.50,932.90 295.50,934.20" fill="#b9bbbd" stroke="#2a2a2a" stroke-width="0.45" stroke-linejoin="round"/>
<polygon points="278.40,990.50 289.70,975.60 282.60,975.00 293.60,956.20 283.90,955.50 295.50,934.20 308.50,932.90 298.10,990.50" fill="url(#gWall)" stroke="#2a2a2a" stroke-width="0.45" stroke-linejoin="round"/>
<polygon points="299.40,938.10 303.30,938.10 300.70,957.50 296.80,957.50" fill="#c2ebe2" stroke="#6d8f8f" stroke-width="0.4"/>
<polygon points="296.20,960.70 300.10,960.70 297.50,978.20 294.00,978.20" fill="#c2ebe2" stroke="#6d8f8f" stroke-width="0.4"/>
<polygon points="293.20,980.80 299.10,980.80 298.10,988.60 292.30,988.60" fill="#c2ebe2" stroke="#6d8f8f" stroke-width="0.4"/>
<path d="M284.79999999999995,884.9 L301.0,884.9 Q303.90000000000003,894.3 301.0,903.7 L284.79999999999995,903.7 Z" fill="url(#gCyl)" stroke="#101010" stroke-width="0.75"/>
<ellipse cx="284.79999999999995" cy="894.3" rx="2.9" ry="9.400000000000034" fill="#2f7d10" stroke="#101010" stroke-width="0.75"/>
<path d="M286.79999999999995,899.8 L303.59999999999997,899.8 Q306.5,910.15 303.59999999999997,920.5 L286.79999999999995,920.5 Z" fill="url(#gCyl)" stroke="#101010" stroke-width="0.75"/>
<ellipse cx="286.79999999999995" cy="910.15" rx="2.9" ry="10.350000000000023" fill="#2f7d10" stroke="#101010" stroke-width="0.75"/>
<path d="M288.4,538.6 V457" fill="none" stroke="#f54e26" stroke-width="3.6" stroke-linejoin="miter" stroke-linecap="butt"/>
<polygon points="288.40,447.20 281.50,457.60 295.30,457.60" fill="#f54e26"/>
<path d="M345.8,485.2 H308.5 V457" fill="none" stroke="#f54e26" stroke-width="3.6" stroke-linejoin="miter" stroke-linecap="butt"/>
<polygon points="308.50,447.20 301.60,457.60 315.40,457.60" fill="#f54e26"/>
<path d="M324.2,381.8 H430" fill="none" stroke="#f54e26" stroke-width="3.6" stroke-linejoin="miter" stroke-linecap="butt"/>
<polygon points="439.50,381.80 429.10,374.90 429.10,388.70" fill="#f54e26"/>
<path d="M362.8,432.5 V411.3 H430" fill="none" stroke="#f54e26" stroke-width="3.6" stroke-linejoin="miter" stroke-linecap="butt"/>
<polygon points="439.50,411.30 429.10,404.40 429.10,418.20" fill="#f54e26"/>
<path d="M549.5,401.3 H587.5" fill="none" stroke="#f54e26" stroke-width="3.6" stroke-linejoin="miter" stroke-linecap="butt"/>
<polygon points="597.30,401.30 586.90,394.40 586.90,408.20" fill="#f54e26"/>
<path d="M593,495 V425.4 H608.9 V370" fill="none" stroke="#f54e26" stroke-width="3.6" stroke-linejoin="miter" stroke-linecap="butt"/>
<polygon points="609.20,360.60 602.30,371.00 616.10,371.00" fill="#f54e26"/>
<path d="M565,276.4 H412" fill="none" stroke="#de0f14" stroke-width="3.8" stroke-linejoin="miter" stroke-linecap="butt"/>
<polygon points="402.50,276.40 412.90,269.30 412.90,283.50" fill="#de0f14"/>
<path d="M443.2,335 H421.3 V311.8 H412" fill="none" stroke="#de0f14" stroke-width="3.7" stroke-linejoin="miter" stroke-linecap="butt"/>
<polygon points="402.50,311.90 412.90,304.80 412.90,319.00" fill="#de0f14"/>
<path d="M610.3,239.3 V169.4 H518" fill="none" stroke="#1212ff" stroke-width="3.6" stroke-linejoin="miter" stroke-linecap="butt"/>
<polygon points="508.80,169.40 519.20,162.50 519.20,176.30" fill="#1212ff"/>
<path d="M546.3,327.5 V193.6 H518" fill="none" stroke="#1212ff" stroke-width="3.6" stroke-linejoin="miter" stroke-linecap="butt"/>
<polygon points="508.80,193.60 519.20,186.70 519.20,200.50" fill="#1212ff"/>
<path d="M423.2,568.6 H332" fill="none" stroke="#fd9c3c" stroke-width="3.6" stroke-linejoin="miter" stroke-linecap="butt"/>
<polygon points="323.00,568.60 333.40,561.70 333.40,575.50" fill="#fd9c3c"/>
<path d="M423.2,599.2 H339.3 V680 H267" fill="none" stroke="#fd9c3c" stroke-width="3.6" stroke-linejoin="miter" stroke-linecap="butt"/>
<polygon points="258.00,680.00 268.40,673.10 268.40,686.90" fill="#fd9c3c"/>
<path d="M423.2,538.7 H410.3 V486.2 H398" fill="none" stroke="#fd9c3c" stroke-width="3.6" stroke-linejoin="miter" stroke-linecap="butt"/>
<polygon points="389.30,486.20 399.70,479.30 399.70,493.10" fill="#fd9c3c"/>
<path d="M522.5,550.6 H556" fill="none" stroke="#fd9c3c" stroke-width="3.6" stroke-linejoin="miter" stroke-linecap="butt"/>
<polygon points="565.50,550.60 555.10,543.70 555.10,557.50" fill="#fd9c3c"/>
<path d="M374.6,683.8 H365 V557" fill="none" stroke="#fdcf24" stroke-width="3.6" stroke-linejoin="miter" stroke-linecap="butt"/>
<polygon points="365.00,547.50 358.10,557.90 371.90,557.90" fill="#fdcf24"/>
<path d="M374.6,701 H309.5 V665" fill="none" stroke="#fdcf24" stroke-width="3.6" stroke-linejoin="miter" stroke-linecap="butt"/>
<polygon points="309.50,655.50 302.60,665.90 316.40,665.90" fill="#fdcf24"/>
<path d="M374.6,724.3 H267" fill="none" stroke="#fdcf24" stroke-width="3.6" stroke-linejoin="miter" stroke-linecap="butt"/>
<polygon points="258.00,724.30 268.40,717.40 268.40,731.20" fill="#fdcf24"/>
<path d="M474,730.6 H592.7 V622" fill="none" stroke="#fdcf24" stroke-width="3.6" stroke-linejoin="miter" stroke-linecap="butt"/>
<polygon points="592.70,612.50 585.80,622.90 599.60,622.90" fill="#fdcf24"/>
<path d="M181.3,852.5 V794.2 H283.8 V665" fill="none" stroke="#aaee1e" stroke-width="3.6" stroke-linejoin="miter" stroke-linecap="butt"/>
<polygon points="283.80,655.50 276.90,665.90 290.70,665.90" fill="#aaee1e"/>
<path d="M230.5,794.2 V750.5" fill="none" stroke="#aaee1e" stroke-width="3.6" stroke-linejoin="miter" stroke-linecap="butt"/>
<polygon points="230.50,741.20 223.60,751.60 237.40,751.60" fill="#aaee1e"/>
<polygon points="310.8,851.3 310.8,817.5 304.5,817.5 316.25,805 328,817.5 322,817.5 322,851.3" fill="#0b40d2"/>
<polygon points="404.5,851.3 404.5,817.5 398.8,817.5 410.4,805 422,817.5 415.8,817.5 415.8,851.3" fill="#0b40d2"/>
<polygon points="483.8,988.8 483.8,962.5 479.5,962.5 488.75,952.5 498,962.5 493.3,962.5 493.3,988.8" fill="#0b40d2"/>
<path d="M338,781 V757.5 a16.5,16.5 0 0 1 16.5,-16.5 H366.4 V733.6 L381,747.7 L366.4,762 V755 H359 a7,7 0 0 0 -7,7 V781 Z" fill="#0b40d2"/>
<path d="M395.5,673.8 V650.3 a16.5,16.5 0 0 1 16.5,-16.5 H423.8 V627 L438.3,640.6 L423.8,654.3 V647.6 H416.5 a7,7 0 0 0 -7,7 V673.8 Z" fill="#0b40d2"/>
<path d="M515,671.3 V694.8 a16.5,16.5 0 0 1 -16.5,16.5 H487.5 V718.8 L472,704.6 L487.5,690.8 V697.6 H494.3 a7,7 0 0 0 7,-7 V671.3 Z" fill="#0b40d2"/>
<path d="M515,1011.3 V962" fill="none" stroke="#fdcf24" stroke-width="3.4" stroke-linejoin="miter" stroke-linecap="butt"/>
<polygon points="515.00,952.50 507.40,963.00 522.60,963.00" fill="#fdcf24"/>
<path d="M537.2,1011.3 V962" fill="none" stroke="#aaee1e" stroke-width="3.4" stroke-linejoin="miter" stroke-linecap="butt"/>
<polygon points="537.20,952.50 529.60,963.00 544.80,963.00" fill="#aaee1e"/>
<path d="M559.3,1011.3 V962" fill="none" stroke="#e0101e" stroke-width="3.4" stroke-linejoin="miter" stroke-linecap="butt"/>
<polygon points="559.30,952.50 551.70,963.00 566.90,963.00" fill="#e0101e"/>
<path d="M662.9,1016.5 V742 H473 V1021.2 H657.5" fill="none" stroke="#3a3a3a" stroke-width="1.1"/>
<rect x="329.5" y="243" width="67.00" height="109.50" fill="#fc9a3a"/>
<rect x="278.8" y="315.8" width="41.20" height="125.50" fill="#fc9a3a"/>
<rect x="345.8" y="447.3" width="34.70" height="77.30" fill="#fc9a3a"/>
<rect x="280" y="542.5" width="38.80" height="100.00" fill="#fc9a3a"/>
<rect x="211.6" y="632" width="40.90" height="95.00" fill="#fc9a3a"/>
<rect x="470" y="135" width="32.50" height="90.00" fill="#fc9a3a"/>
<rect x="570.5" y="244.2" width="45.30" height="110.80" fill="#fc9a3a"/>
<rect x="573.3" y="502.5" width="39.20" height="103.80" fill="#fc9a3a"/>
<rect x="572.2" y="885" width="42.30" height="127.30" fill="#fc9a3a"/>
<rect x="236.55" y="316.55" width="33.50" height="110.20" fill="#fff" stroke="#1b4483" stroke-width="2.1"/>
<rect x="217.55" y="440.75" width="33.00" height="96.70" fill="#fff" stroke="#1b4483" stroke-width="2.1"/>
<rect x="236.25" y="554.25" width="33.00" height="64.80" fill="#fff" stroke="#1b4483" stroke-width="2.1"/>
<rect x="172.05" y="512.75" width="33.50" height="95.20" fill="#fff" stroke="#1b4483" stroke-width="2.1"/>
<rect x="156.55" y="644.55" width="33.50" height="91.70" fill="#fff" stroke="#1b4483" stroke-width="2.1"/>
<rect x="495.55" y="253.25" width="18.70" height="135.30" fill="#fff" stroke="#1b4483" stroke-width="2.1"/>
<rect x="623.75" y="148.75" width="22.50" height="149.30" fill="#fff" stroke="#1b4483" stroke-width="2.1"/>
<rect x="544.55" y="434.05" width="22.70" height="103.60" fill="#fff" stroke="#1b4483" stroke-width="2.1"/>
<rect x="623.95" y="401.05" width="22.30" height="150.60" fill="#fff" stroke="#1b4483" stroke-width="2.1"/>
<rect x="625.25" y="885.75" width="32.60" height="126.50" fill="#fff" stroke="#1b4483" stroke-width="2.1"/>
<path d="M518,276.4 H492" fill="none" stroke="#de0f14" stroke-width="3.8" stroke-linejoin="miter" stroke-linecap="butt"/>
<text transform="translate(347.60,297.80) rotate(-90)" text-anchor="middle" font-size="10.95" fill="#1a1a1a" stroke="#1a1a1a" stroke-width="0.32" >Poursuite de la</text>
<text transform="translate(360.40,297.80) rotate(-90)" text-anchor="middle" font-size="10.95" fill="#1a1a1a" stroke="#1a1a1a" stroke-width="0.32" >cascade au travers</text>
<text transform="translate(373.20,297.80) rotate(-90)" text-anchor="middle" font-size="10.95" fill="#1a1a1a" stroke="#1a1a1a" stroke-width="0.32" >des émissions</text>
<text transform="translate(385.60,297.80) rotate(-90)" text-anchor="middle" font-size="10.95" fill="#1a1a1a" stroke="#1a1a1a" stroke-width="0.32" >de NO<tspan font-size="5.9" dy="3.0">x</tspan><tspan dy="-3.0" font-size="5.9">&#8203;</tspan> et N<tspan font-size="5.9" dy="3.0">2</tspan><tspan dy="-3.0" font-size="5.9">&#8203;</tspan>O</text>
<text transform="translate(296.30,378.50) rotate(-90)" text-anchor="middle" font-size="10.95" fill="#1a1a1a" stroke="#1a1a1a" stroke-width="0.32" >Nitrate d'ammonium</text>
<text transform="translate(309.30,378.50) rotate(-90)" text-anchor="middle" font-size="10.95" fill="#1a1a1a" stroke="#1a1a1a" stroke-width="0.32" >dans la pluie (NH<tspan font-size="5.9" dy="3.0">4</tspan><tspan dy="-3.0" font-size="5.9">&#8203;</tspan>, NO<tspan font-size="5.9" dy="3.0">3</tspan><tspan dy="-3.0" font-size="5.9">&#8203;</tspan>)</text>
<text transform="translate(360.00,485.70) rotate(-90)" text-anchor="middle" font-size="10.95" fill="#1a1a1a" stroke="#1a1a1a" stroke-width="0.32" >Ammoniac</text>
<text transform="translate(372.80,485.70) rotate(-90)" text-anchor="middle" font-size="10.95" fill="#1a1a1a" stroke="#1a1a1a" stroke-width="0.32" >(NH<tspan font-size="5.9" dy="3.0">3</tspan><tspan dy="-3.0" font-size="5.9">&#8203;</tspan>)</text>
<text transform="translate(297.00,592.50) rotate(-90)" text-anchor="middle" font-size="10.95" fill="#1a1a1a" stroke="#1a1a1a" stroke-width="0.32" >Oxydes d'azote</text>
<text transform="translate(310.00,592.50) rotate(-90)" text-anchor="middle" font-size="10.95" fill="#1a1a1a" stroke="#1a1a1a" stroke-width="0.32" >(NO<tspan font-size="5.9" dy="3.0">x</tspan><tspan dy="-3.0" font-size="5.9">&#8203;</tspan>)</text>
<text transform="translate(230.20,678.00) rotate(-90)" text-anchor="middle" font-size="10.95" fill="#1a1a1a" stroke="#1a1a1a" stroke-width="0.32" >Protoxyde</text>
<text transform="translate(243.00,678.00) rotate(-90)" text-anchor="middle" font-size="10.95" fill="#1a1a1a" stroke="#1a1a1a" stroke-width="0.32" >d'azote (N<tspan font-size="5.9" dy="3.0">2</tspan><tspan dy="-3.0" font-size="5.9">&#8203;</tspan>O)</text>
<text transform="translate(484.30,180.00) rotate(-90)" text-anchor="middle" font-size="10.95" fill="#1a1a1a" stroke="#1a1a1a" stroke-width="0.32" >Dénitrification</text>
<text transform="translate(497.00,180.00) rotate(-90)" text-anchor="middle" font-size="10.95" fill="#1a1a1a" stroke="#1a1a1a" stroke-width="0.32" >finale de N<tspan font-size="5.9" dy="3.0">2</tspan><tspan dy="-3.0" font-size="5.9">&#8203;</tspan></text>
<text transform="translate(585.20,299.20) rotate(-90)" text-anchor="middle" font-size="10.95" fill="#1a1a1a" stroke="#1a1a1a" stroke-width="0.32" >Nitrate dans les</text>
<text transform="translate(597.00,299.20) rotate(-90)" text-anchor="middle" font-size="10.95" fill="#1a1a1a" stroke="#1a1a1a" stroke-width="0.32" >cours d'eau, nappes</text>
<text transform="translate(609.50,299.20) rotate(-90)" text-anchor="middle" font-size="10.95" fill="#1a1a1a" stroke="#1a1a1a" stroke-width="0.32" >et eaux côtières</text>
<text transform="translate(590.50,554.40) rotate(-90)" text-anchor="middle" font-size="10.95" fill="#1a1a1a" stroke="#1a1a1a" stroke-width="0.32" >Nitrate lessivé</text>
<text transform="translate(603.50,554.40) rotate(-90)" text-anchor="middle" font-size="10.95" fill="#1a1a1a" stroke="#1a1a1a" stroke-width="0.32" >(NO<tspan font-size="5.9" dy="3.0">3</tspan><tspan dy="-3.0" font-size="5.9">&#8203;</tspan><tspan font-size="7" dy="-4.2">–</tspan><tspan dy="4.2" font-size="7">&#8203;</tspan>)</text>
<text transform="translate(590.70,948.60) rotate(-90)" text-anchor="middle" font-size="10.95" fill="#1a1a1a" stroke="#1a1a1a" stroke-width="0.32" >Forme d'azote</text>
<text transform="translate(604.40,948.60) rotate(-90)" text-anchor="middle" font-size="10.95" fill="#1a1a1a" stroke="#1a1a1a" stroke-width="0.32" >dans la cascade</text>
<text transform="translate(251.20,371.70) rotate(-90)" text-anchor="middle" font-size="10.95" fill="#2f6cab" stroke="#2f6cab" stroke-width="0.32" >Formation particules</text>
<text transform="translate(264.20,371.70) rotate(-90)" text-anchor="middle" font-size="10.95" fill="#2f6cab" stroke="#2f6cab" stroke-width="0.32" >atmosphériques</text>
<text transform="translate(232.50,489.00) rotate(-90)" text-anchor="middle" font-size="10.95" fill="#2f6cab" stroke="#2f6cab" stroke-width="0.32" >Formation d'ozone</text>
<text transform="translate(245.00,489.00) rotate(-90)" text-anchor="middle" font-size="10.95" fill="#2f6cab" stroke="#2f6cab" stroke-width="0.32" >troposphérique</text>
<text transform="translate(250.20,586.60) rotate(-90)" text-anchor="middle" font-size="10.95" fill="#2f6cab" stroke="#2f6cab" stroke-width="0.32" >Qualité de</text>
<text transform="translate(263.00,586.60) rotate(-90)" text-anchor="middle" font-size="10.95" fill="#2f6cab" stroke="#2f6cab" stroke-width="0.32" >l'air urbain</text>
<text transform="translate(187.20,560.30) rotate(-90)" text-anchor="middle" font-size="10.95" fill="#2f6cab" stroke="#2f6cab" stroke-width="0.32" >Perte d'ozone</text>
<text transform="translate(199.70,560.30) rotate(-90)" text-anchor="middle" font-size="10.95" fill="#2f6cab" stroke="#2f6cab" stroke-width="0.32" >stratosphérique</text>
<text transform="translate(169.40,690.40) rotate(-90)" text-anchor="middle" font-size="10.95" fill="#2f6cab" stroke="#2f6cab" stroke-width="0.32" >Bilan gaz à</text>
<text transform="translate(182.60,690.40) rotate(-90)" text-anchor="middle" font-size="10.95" fill="#2f6cab" stroke="#2f6cab" stroke-width="0.32" >effet de serre</text>
<text transform="translate(508.80,320.90) rotate(-90)" text-anchor="middle" font-size="10.95" fill="#2f6cab" stroke="#2f6cab" stroke-width="0.32" >Eutrophisation terrestre</text>
<text transform="translate(638.30,223.40) rotate(-90)" text-anchor="middle" font-size="10.95" fill="#2f6cab" stroke="#2f6cab" stroke-width="0.32" >Eutrophisation eaux marines</text>
<text transform="translate(560.00,485.60) rotate(-90)" text-anchor="middle" font-size="10.95" fill="#2f6cab" stroke="#2f6cab" stroke-width="0.32" >Acidification sols</text>
<text transform="translate(638.30,476.20) rotate(-90)" text-anchor="middle" font-size="10.95" fill="#2f6cab" stroke="#2f6cab" stroke-width="0.32" >Eutrophisation eaux douces</text>
<text transform="translate(638.60,948.80) rotate(-90)" text-anchor="middle" font-size="10.95" fill="#2f6cab" stroke="#2f6cab" stroke-width="0.32" >Problème</text>
<text transform="translate(652.50,948.80) rotate(-90)" text-anchor="middle" font-size="10.95" fill="#2f6cab" stroke="#2f6cab" stroke-width="0.32" >environnemental</text>
<text transform="translate(458.60,423.20) rotate(-90)" text-anchor="middle" font-size="10.95" fill="#1a1a1a" stroke="#1a1a1a" stroke-width="0.32" >Écosystèmes naturels</text>
<text transform="translate(517.40,602.50) rotate(-90)" text-anchor="middle" font-size="10.95" fill="#1a1a1a" stroke="#1a1a1a" stroke-width="0.32" >Système de production</text>
<text transform="translate(530.50,602.50) rotate(-90)" text-anchor="middle" font-size="10.95" fill="#1a1a1a" stroke="#1a1a1a" stroke-width="0.32" >animale</text>
<text transform="translate(531.20,714.20) rotate(-90)" text-anchor="start" font-size="10.95" fill="#1a1a1a" stroke="#1a1a1a" stroke-width="0.32" >N<tspan font-size="5.9" dy="3.6">R</tspan><tspan dy="-3.6" font-size="5.9">&#8203;</tspan><tspan dx="2.6"> dans</tspan></text>
<text transform="translate(544.30,693.80) rotate(-90)" text-anchor="middle" font-size="10.95" fill="#1a1a1a" stroke="#1a1a1a" stroke-width="0.32" >les effluents</text>
<text transform="translate(467.40,728.90) rotate(-90)" text-anchor="middle" font-size="10.95" fill="#1a1a1a" stroke="#1a1a1a" stroke-width="0.32" >Cultures</text>
<text transform="translate(388.80,664.60) rotate(-90)" text-anchor="start" font-size="10.95" fill="#1a1a1a" stroke="#1a1a1a" stroke-width="0.32" >N<tspan font-size="5.9" dy="3.0">R</tspan><tspan dy="-3.0" font-size="5.9">&#8203;</tspan></text>
<text transform="translate(169.80,852.20) rotate(-90)" text-anchor="start" font-size="10.95" fill="#1a1a1a" stroke="#1a1a1a" stroke-width="0.32" >N<tspan font-size="5.8" dy="4.3">2</tspan><tspan dy="-4.3" font-size="5.8">&#8203;</tspan></text>
<path d="M165.90,837.90 V825.60" stroke="#1a1a1a" stroke-width="1.1" fill="none"/>
<polygon points="165.90,824.00 163.80,827.20 165.90,826.40 168.00,827.20" fill="#1a1a1a"/>
<text transform="translate(169.80,822.80) rotate(-90)" text-anchor="start" font-size="10.95" fill="#1a1a1a" stroke="#1a1a1a" stroke-width="0.32" >N<tspan font-size="5.8" dy="4.3">R</tspan><tspan dy="-4.3" font-size="5.8">&#8203;</tspan></text>
<text transform="translate(201.30,854.30) rotate(-90)" text-anchor="start" font-size="10.95" fill="#1a1a1a" stroke="#1a1a1a" stroke-width="0.32" >25 (13 %)</text>
<text transform="translate(218.70,855.00) rotate(-90)" text-anchor="start" font-size="10.95" fill="#3b82e8" stroke="#3b82e8" stroke-width="0.32" >3,7 (21 %)</text>
<text transform="translate(296.90,850.20) rotate(-90)" text-anchor="start" font-size="10.95" fill="#1a1a1a" stroke="#1a1a1a" stroke-width="0.32" >N<tspan font-size="5.8" dy="4.3">2</tspan><tspan dy="-4.3" font-size="5.8">&#8203;</tspan></text>
<path d="M293.00,835.90 V823.60" stroke="#1a1a1a" stroke-width="1.1" fill="none"/>
<polygon points="293.00,822.00 290.90,825.20 293.00,824.40 295.10,825.20" fill="#1a1a1a"/>
<text transform="translate(296.90,820.80) rotate(-90)" text-anchor="start" font-size="10.95" fill="#1a1a1a" stroke="#1a1a1a" stroke-width="0.32" >N<tspan font-size="5.8" dy="4.3">R</tspan><tspan dy="-4.3" font-size="5.8">&#8203;</tspan></text>
<text transform="translate(343.70,853.80) rotate(-90)" text-anchor="start" font-size="10.95" fill="#1a1a1a" stroke="#1a1a1a" stroke-width="0.32" >121 (63 %)</text>
<text transform="translate(360.40,855.00) rotate(-90)" text-anchor="start" font-size="10.95" fill="#3b82e8" stroke="#3b82e8" stroke-width="0.32" >11,5 (70 %)</text>
<text transform="translate(390.60,849.00) rotate(-90)" text-anchor="start" font-size="10.95" fill="#1a1a1a" stroke="#1a1a1a" stroke-width="0.32" >N<tspan font-size="5.8" dy="4.3">2</tspan><tspan dy="-4.3" font-size="5.8">&#8203;</tspan></text>
<path d="M386.70,834.70 V822.40" stroke="#1a1a1a" stroke-width="1.1" fill="none"/>
<polygon points="386.70,820.80 384.60,824.00 386.70,823.20 388.80,824.00" fill="#1a1a1a"/>
<text transform="translate(390.60,819.60) rotate(-90)" text-anchor="start" font-size="10.95" fill="#1a1a1a" stroke="#1a1a1a" stroke-width="0.32" >N<tspan font-size="5.8" dy="4.3">R</tspan><tspan dy="-4.3" font-size="5.8">&#8203;</tspan></text>
<text transform="translate(437.90,852.60) rotate(-90)" text-anchor="start" font-size="10.95" fill="#1a1a1a" stroke="#1a1a1a" stroke-width="0.32" >45 (24 %)</text>
<text transform="translate(454.80,851.00) rotate(-90)" text-anchor="start" font-size="10.95" fill="#3b82e8" stroke="#3b82e8" stroke-width="0.32" >1,3 (8 %)</text>
<text transform="translate(203.60,937.80) rotate(-90)" text-anchor="middle" font-size="10.95" fill="#1a1a1a" stroke="#1a1a1a" stroke-width="0.32" >Combustion</text>
<text transform="translate(217.40,937.80) rotate(-90)" text-anchor="middle" font-size="10.95" fill="#1a1a1a" stroke="#1a1a1a" stroke-width="0.32" >et industrie</text>
<text transform="translate(327.30,937.20) rotate(-90)" text-anchor="middle" font-size="10.95" fill="#1a1a1a" stroke="#1a1a1a" stroke-width="0.32" >Fabrication industrielle</text>
<text transform="translate(340.40,937.20) rotate(-90)" text-anchor="middle" font-size="10.95" fill="#1a1a1a" stroke="#1a1a1a" stroke-width="0.32" >d'engrais</text>
<text transform="translate(444.00,937.50) rotate(-90)" text-anchor="middle" font-size="10.95" fill="#1a1a1a" stroke="#1a1a1a" stroke-width="0.32" >Fixation biologique</text>
<text transform="translate(457.40,937.50) rotate(-90)" text-anchor="middle" font-size="10.95" fill="#1a1a1a" stroke="#1a1a1a" stroke-width="0.32" >d'azote par les cultures</text>
<text transform="translate(487.30,943.80) rotate(-90)" text-anchor="start" font-size="10.95" fill="#1a1a1a" stroke="#1a1a1a" stroke-width="0.32" >Flux d'azote</text>
<text transform="translate(500.50,943.80) rotate(-90)" text-anchor="start" font-size="10.95" fill="#1a1a1a" stroke="#1a1a1a" stroke-width="0.32" >intentionnel</text>
<text transform="translate(532.60,943.80) rotate(-90)" text-anchor="start" font-size="10.95" fill="#1a1a1a" stroke="#1a1a1a" stroke-width="0.32" >Flux d'azote</text>
<text transform="translate(545.60,943.80) rotate(-90)" text-anchor="start" font-size="10.95" fill="#1a1a1a" stroke="#1a1a1a" stroke-width="0.32" >non intentionnels</text>
<text transform="translate(583.30,851.80) rotate(-90)" text-anchor="start" font-size="10.95" fill="#1a1a1a" stroke="#1a1a1a" stroke-width="0.32" >Fixation anthropique</text>
<text transform="translate(597.50,851.80) rotate(-90)" text-anchor="start" font-size="10.95" fill="#1a1a1a" stroke="#1a1a1a" stroke-width="0.32" >d'azote (N<tspan font-size="5.9" dy="3.0">2</tspan><tspan dy="-3.0" font-size="5.9">&#8203;</tspan> <tspan font-size="11" dy="-0.6">→</tspan><tspan dy="0.6" font-size="6">&#8203;</tspan> N<tspan font-size="5.9" dy="3.0">R</tspan><tspan dy="-3.0" font-size="5.9">&#8203;</tspan>)</text>
<text transform="translate(613.70,851.80) rotate(-90)" text-anchor="start" font-size="10.95" fill="#1a1a1a" stroke="#1a1a1a" stroke-width="0.32" >en Tg/an</text>
<text transform="translate(635.00,851.80) rotate(-90)" text-anchor="start" font-size="10.95" fill="#1a1a1a" stroke="#1a1a1a" stroke-width="0.32" >Monde (% monde)</text>
<text transform="translate(650.80,851.80) rotate(-90)" text-anchor="start" font-size="10.95" fill="#3b82e8" stroke="#3b82e8" stroke-width="0.32" >EU27 (% dans EU27)</text>
<text transform="translate(692.50,894.30) rotate(-90)" text-anchor="start" font-size="15.0" fill="#d3291e" textLength="771.70" lengthAdjust="spacingAndGlyphs" stroke="#d3291e" stroke-width="0.22">Ce schéma simplifié met en évidence la fabrication d’azote réactif (N<tspan font-size="7.5" dy="2.6">R</tspan><tspan dy="-2.6" font-size="7.5">&#8203;</tspan>), les principales formes d’azote réactif utilisées ou produites dans l’environne-</text>
<text transform="translate(709.80,894.30) rotate(-90)" text-anchor="start" font-size="15.0" fill="#d3291e" textLength="771.30" lengthAdjust="spacingAndGlyphs" stroke="#d3291e" stroke-width="0.22">ment et les impacts environnementaux. Les flèches bleues représentent les flux intentionnels, celles d’autres couleurs les flux non intentionnels ; les</text>
<text transform="translate(727.10,894.30) rotate(-90)" text-anchor="start" font-size="15.0" fill="#d3291e" textLength="771.30" lengthAdjust="spacingAndGlyphs" stroke="#d3291e" stroke-width="0.22">rectangles orange sont les principales formes polluantes et les bleus les neuf principaux enjeux environnementaux. Les estimations de N fixé sont en</text>
<text transform="translate(744.40,868.40) rotate(-90)" text-anchor="start" font-size="15.0" fill="#d3291e" textLength="745.40" lengthAdjust="spacingAndGlyphs" stroke="#d3291e" stroke-width="0.22">Tg/an pour le monde (données 2005, Galloway <tspan font-style="italic">et al.</tspan>, 2008) et pour l’Europe (données 2000, Leip <tspan font-style="italic">et al.</tspan>, 2011). Source : Sutton <tspan font-style="italic">et al.</tspan>, 2011, ENA.</text>
</svg></body></html>
